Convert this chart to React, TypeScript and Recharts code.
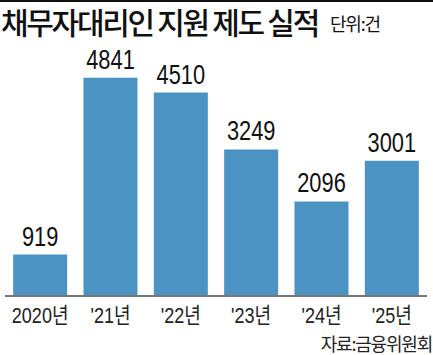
import React from 'react';
import { BarChart, Bar, XAxis, YAxis, LabelList } from 'recharts';

const categories = ['2020년', "'21년", "'22년", "'23년", "'24년", "'25년"];
const counts = [919, 4841, 4510, 3249, 2096, 3001];

const data = categories.map((name, i) => ({ name, count: counts[i] }));

const narrow = '"Liberation Sans", Arial, "Noto Sans CJK KR", sans-serif';

// condensed tick text, squeezed horizontally around its centre
function CategoryTick(props: any) {
    const { x, y, payload } = props;
    return (
        <g transform={`translate(${x},${y}) scale(0.82,1)`}>
            <text x={0} y={0} dy={19} textAnchor="middle" fill="#222" fontSize={22} fontFamily={narrow}>
                {payload.value}
            </text>
        </g>
    );
}

function ValueLabel(props: any) {
    const { x, y, width, value } = props;
    const cx = x + width / 2;
    return (
        <g transform={`translate(${cx},${y - 9}) scale(0.78,1)`}>
            <text x={0} y={0} textAnchor="middle" fill="#111" fontSize={28} fontFamily={narrow}>
                {value}
            </text>
        </g>
    );
}

export default function App() {
    return (
        <div style={{ position: 'relative', width: 433, height: 355, background: '#fff', overflow: 'hidden' }}>
            <style>{'body{margin:0}'}</style>
            <div style={{ position: 'absolute', left: 0, top: 0, width: 433, height: 2, background: '#111' }} />
            <div
                style={{
                    position: 'absolute',
                    left: 1,
                    top: 2,
                    fontFamily: '"Noto Sans CJK KR", sans-serif',
                    fontSize: 30,
                    fontWeight: 500,
                    color: '#111',
                    letterSpacing: -2.3,
                    whiteSpace: 'nowrap',
                    lineHeight: '38px'
                }}
            >
                채무자대리인 지원 제도 실적
                <span style={{ fontSize: 18, fontWeight: 400, letterSpacing: -1.2, marginLeft: 12, verticalAlign: 3 }}>
                    단위:건
                </span>
            </div>
            <BarChart
                width={433}
                height={355}
                data={data}
                margin={{ top: 70.5, right: 6, left: 5, bottom: 29 }}
                barCategoryGap="11.6%"
            >
                <YAxis hide domain={[0, 5000]} />
                <XAxis
                    dataKey="name"
                    axisLine={{ stroke: '#777', strokeWidth: 2 }}
                    tickLine={false}
                    height={30}
                    interval={0}
                    tick={<CategoryTick />}
                />
                <Bar dataKey="count" fill="#4a93c2" isAnimationActive={false}>
                    <LabelList dataKey="count" content={<ValueLabel />} />
                </Bar>
            </BarChart>
            <div
                style={{
                    position: 'absolute',
                    right: 1,
                    top: 333,
                    fontFamily: '"Noto Sans CJK KR", sans-serif',
                    fontSize: 18,
                    color: '#222',
                    letterSpacing: -1.2,
                    lineHeight: '20px'
                }}
            >
                자료:금융위원회
            </div>
        </div>
    );
}
